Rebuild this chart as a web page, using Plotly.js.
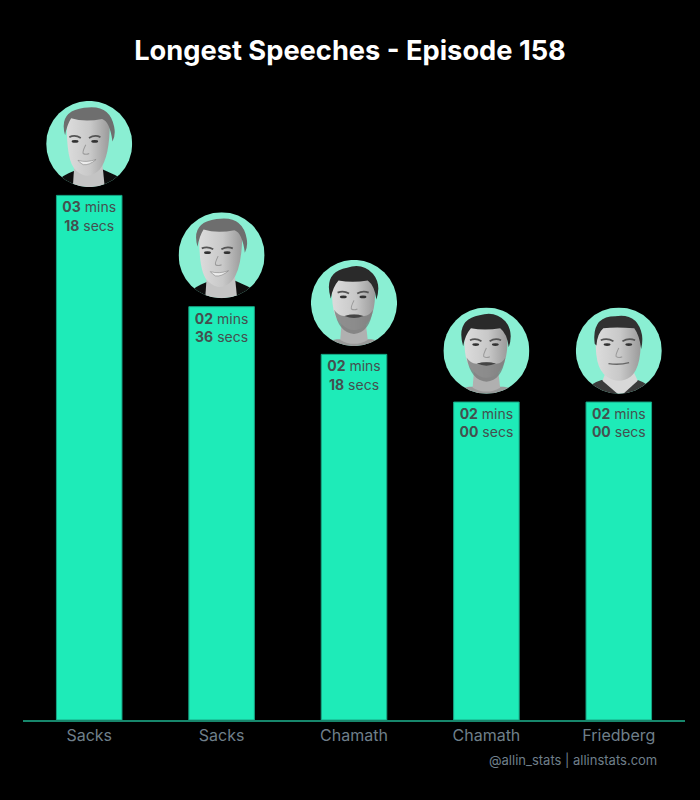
<!DOCTYPE html>
<html>
<head>
<meta charset="utf-8">
<script src="https://cdn.plot.ly/plotly-3.0.1.min.js"></script>
<style>html,body{margin:0;padding:0;background:#000}</style>
</head>
<body>
<div id="chart" style="width:700px;height:800px"></div>
<script>
const speakers = ["Sacks", "Sacks", "Chamath", "Chamath", "Friedberg"];
const minutes = [3, 2, 2, 2, 2];
const seconds = [18, 36, 18, 0, 0];
const totalSeconds = [198, 156, 138, 120, 120];
const titleText = "Longest Speeches - Episode 158";
const creditText = "@allin_stats | allinstats.com";

const pad = n => String(n).padStart(2, "0");
const labels = minutes.map((m, i) => `<b>${pad(m)}</b> mins<br><b>${pad(seconds[i])}</b> secs`);
const positions = speakers.map((_, i) => i);

function svgUri(body) {
  const svg = `<svg xmlns="http://www.w3.org/2000/svg" viewBox="0 0 100 100" width="300" height="300">
  <defs><clipPath id="c"><circle cx="50" cy="50" r="50"/></clipPath>
  <linearGradient id="f" x1="0" x2="1" y1="0" y2="0"><stop offset="0" stop-color="#dcdcdc"/><stop offset="0.55" stop-color="#c8c8c8"/><stop offset="1" stop-color="#9a9a9a"/></linearGradient>
  <filter id="b"><feGaussianBlur stdDeviation="0.55"/></filter></defs>
  <circle cx="50" cy="50" r="50" fill="#8aefd3"/><g clip-path="url(#c)"><g filter="url(#b)">${body}</g></g></svg>`;
  return "data:image/svg+xml;base64," + btoa(svg);
}
const eyes = (y, cx, s) => `
  <path d="M${cx-19*s} ${y-5} Q${cx-12*s} ${y-8} ${cx-5*s} ${y-4}" stroke="#555" stroke-width="2" fill="none"/>
  <path d="M${cx+5*s} ${y-4} Q${cx+12*s} ${y-8} ${cx+19*s} ${y-5}" stroke="#555" stroke-width="2" fill="none"/>
  <ellipse cx="${cx-12*s}" cy="${y}" rx="4" ry="1.6" fill="#333"/><ellipse cx="${cx+12*s}" cy="${y}" rx="4" ry="1.6" fill="#333"/>
  <path d="M${cx+1} ${y+4} Q${cx-3} ${y+12} ${cx-2} ${y+14} Q${cx+1} ${y+16} ${cx+5} ${y+14}" stroke="#9a9a9a" stroke-width="1.2" fill="none"/>`;

function sacks() {
  return `<path d="M2 112 Q8 92 26 84 L40 78 L62 78 L80 86 Q94 92 98 112 Z" fill="#111"/>
  <path d="M33 70 L31 100 L68 100 L65 70 Z" fill="#c4c4c4"/>
  <path d="M24 22 Q23 72 35 81 Q49 93 62 80 Q74 66 74 24 Q50 8 24 22 Z" fill="url(#f)"/>
  <path d="M22 40 Q14 12 44 8 Q74 3 79 30 Q81 40 77 47 Q74 24 65 21 Q44 25 29 20 Q24 28 22 40 Z" fill="#6e6e6e"/>
  ${eyes(47, 45, 0.95)}
  <path d="M37 69 Q47 72 58 68 Q50 75 43 74 Q39 72 37 69 Z" fill="#ececec" stroke="#777" stroke-width="0.6"/>`;
}
function chamath() {
  return `<path d="M8 112 Q10 94 30 92 L70 92 Q90 94 92 112 Z" fill="#999"/>
  <path d="M36 68 L34 93 Q50 102 66 93 L63 68 Z" fill="#b0b0b0"/>
  <path d="M25 25 Q22 66 36 75 Q50 88 64 75 Q77 62 74 25 Q50 8 25 25 Z" fill="url(#f)"/>
  <path d="M27 58 Q32 85 50 86 Q68 85 72 58 Q68 66 60 65 Q50 62 40 65 Q32 66 27 58 Z" fill="#777" opacity="0.75"/>
  <path d="M23 45 Q14 14 42 9 Q60 3 72 16 Q82 28 76 46 Q74 30 66 24 Q48 27 32 24 Q25 32 23 45 Z" fill="#2a2a2a"/>
  ${eyes(43, 49, 0.95)}
  <path d="M39 65 Q50 62 61 65 Q50 70 39 65 Z" fill="#454545"/>`;
}
function friedberg() {
  return `<path d="M3 112 Q8 90 30 84 L72 84 Q92 90 98 112 Z" fill="#3b3b3b"/>
  <path d="M31 85 L52 103 L72 85 L66 72 L36 72 Z" fill="#d8d8d8"/>
  <path d="M24 26 Q20 70 36 80 Q50 90 64 80 Q78 68 75 26 Q50 10 24 26 Z" fill="url(#f)"/>
  <path d="M22 42 Q18 10 46 10 Q72 6 77 32 Q78 40 76 48 Q74 32 68 24 Q46 22 32 24 Q25 30 24 44 Z" fill="#303030"/>
  ${eyes(43, 49, 1.05)}
  <path d="M38 65 Q50 67 62 64" stroke="#666" stroke-width="1.5" fill="none"/>`;
}
const portraits = [sacks(), sacks(), chamath(), chamath(), friedberg()].map(svgUri);

const images = portraits.map((source, i) => ({
  source, xref: "x", yref: "y", x: positions[i], y: totalSeconds[i] + 19.4,
  sizex: 0.65, sizey: 32.5, xanchor: "center", yanchor: "middle",
  sizing: "stretch", layer: "above"
}));

Plotly.newPlot("chart", [{
  type: "bar",
  x: positions,
  y: totalSeconds,
  text: labels,
  textposition: "inside",
  insidetextanchor: "end",
  textangle: 0,
  constraintext: "none",
  cliponaxis: false,
  insidetextfont: {family: "Inter, sans-serif", size: 14, color: "#44504f"},
  marker: {color: "#1eebb8", line: {color: "#17a584", width: 1}},
  hoverinfo: "skip"
}], {
  width: 700, height: 800,
  paper_bgcolor: "#000", plot_bgcolor: "#000",
  margin: {l: 23, r: 15, t: 100, b: 80, pad: 0},
  bargap: 0.505,
  showlegend: false,
  title: {text: "<b>" + titleText + "</b>", x: 0.5, xanchor: "center", y: 0.9375, yanchor: "middle",
    font: {family: "Inter, sans-serif", size: 27.25, color: "#ffffff"}},
  xaxis: {range: [-0.5, 4.5], tickmode: "array", tickvals: positions, ticktext: speakers,
    showgrid: false, zeroline: false, showline: true, linecolor: "#17876c", linewidth: 2,
    ticks: "", tickfont: {family: "Inter, sans-serif", size: 16, color: "#6f7f8a"}},
  yaxis: {range: [0, 234], visible: false, showgrid: false, zeroline: false},
  images,
  annotations: [{text: creditText, xref: "paper", yref: "paper", x: 0.96, y: -0.0645,
    xanchor: "right", yanchor: "middle", showarrow: false,
    font: {family: "Inter, sans-serif", size: 13, color: "#6f7f8a"}}]
}, {displayModeBar: false, staticPlot: true});
</script>
</body>
</html>
